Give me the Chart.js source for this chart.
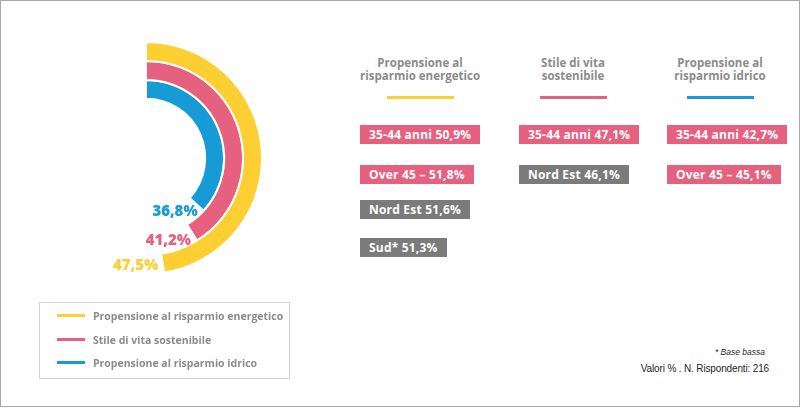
<!DOCTYPE html>
<html>
<head>
<meta charset="utf-8">
<script src="https://cdn.jsdelivr.net/npm/chart.js@4.4.1/dist/chart.umd.min.js"></script>
<style>
  html, body { margin: 0; padding: 0; background: #fff; }
  .frame {
    position: relative; width: 800px; height: 407px; box-sizing: border-box;
    border: 1px solid #a8a8a8; overflow: hidden;
    font-family: "Open Sans", sans-serif;
  }
  #rings { position: absolute; left: 0; top: 12px; }
  .col { position: absolute; top: 0; width: 150px; margin-left: -75px; }
  .col h3 {
    position: absolute; top: 55px; left: 0; width: 150px; margin: 0;
    text-align: center; font-size: 11.5px; line-height: 13px; font-weight: 700; color: #8b8b8b;
  }
  .col .bar { position: absolute; top: 95px; left: 42px; width: 67px; height: 3px; }
  .tag {
    position: absolute; height: 19px; line-height: 19px; padding: 0 9px;
    color: #fff; font-size: 12px; font-weight: 700; letter-spacing: 0.2px; white-space: nowrap;
  }
  .legend {
    position: absolute; left: 38px; top: 301px; width: 251px; height: 77px;
    box-sizing: border-box; border: 1px solid #d4d4d4;
  }
  .legend div {
    position: absolute; left: 53px; font-size: 10.5px; font-weight: 700; color: #8b8b8b;
    line-height: 14px; white-space: nowrap;
  }
  .legend span { position: absolute; left: -36px; top: 5px; width: 28px; height: 3px; }
  .note { position: absolute; right: 30px; font-family: "Liberation Sans", sans-serif; color: #262626; white-space: nowrap; }
</style>
</head>
<body>
<div class="frame" id="frame">
  <canvas id="rings" width="290" height="290"></canvas>
  <div class="legend" id="legend"></div>
  <div class="note" style="top:346px;right:34px;font-size:8.5px;font-style:italic;">* Base bassa</div>
  <div class="note" style="top:362px;font-size:10px;letter-spacing:-0.15px;">Valori % . N. Rispondenti: 216</div>
</div>
<script>
// Data
const seriesNames = ['Propensione al risparmio energetico', 'Stile di vita sostenibile', 'Propensione al risparmio idrico'];
const seriesValues = [47.5, 41.2, 36.8];
const columnTitles = ['Propensione al\nrisparmio energetico', 'Stile di vita\nsostenibile', 'Propensione al\nrisparmio idrico'];
const tagLabels = [
  ['35-44 anni', 'Over 45 –', 'Nord Est', 'Sud*'],
  ['35-44 anni', 'Nord Est'],
  ['35-44 anni', 'Over 45 –']
];
const tagValues = [
  [50.9, 51.8, 51.6, 51.3],
  [47.1, 46.1],
  [42.7, 45.1]
];
const tagKinds = [
  ['age', 'age', 'area', 'area'],
  ['age', 'area'],
  ['age', 'age']
];

// Style
const SERIES_COLORS = ['#fdcf32', '#e6617f', '#179bd6'];
const TAG_COLORS = { age: '#e6617f', area: '#7b7b7b' };
const COLUMN_CENTERS = [419, 572, 719];
const TAG_LEFTS = [359, 518, 666];
const TAG_TOPS = [124, 164, 199, 237];
const LABEL_SHIFT_Y = [-7, 0, 1];

const fmt = (v) => v.toFixed(1).replace('.', ',') + '%';

const frame = document.getElementById('frame');

// Columns with highlights
columnTitles.forEach((title, c) => {
  const col = document.createElement('div');
  col.className = 'col';
  col.style.left = COLUMN_CENTERS[c] + 'px';
  const h = document.createElement('h3');
  h.innerHTML = title.replace('\n', '<br>');
  const bar = document.createElement('div');
  bar.className = 'bar';
  bar.style.background = SERIES_COLORS[c];
  col.appendChild(h);
  col.appendChild(bar);
  frame.appendChild(col);

  tagLabels[c].forEach((label, r) => {
    const tag = document.createElement('div');
    tag.className = 'tag';
    tag.textContent = label + ' ' + fmt(tagValues[c][r]);
    tag.style.left = TAG_LEFTS[c] + 'px';
    tag.style.top = TAG_TOPS[r] + 'px';
    tag.style.background = TAG_COLORS[tagKinds[c][r]];
    frame.appendChild(tag);
  });
});

// Legend
const legend = document.getElementById('legend');
seriesNames.forEach((name, i) => {
  const row = document.createElement('div');
  row.style.top = (6 + i * 23.5) + 'px';
  row.innerHTML = '<span style="background:' + SERIES_COLORS[i] + '"></span>' + name;
  legend.appendChild(row);
});

// Value labels at the end of each ring
const endLabels = {
  id: 'endLabels',
  afterDatasetsDraw(chart) {
    const ctx = chart.ctx;
    ctx.save();
    ctx.font = '800 15px "Open Sans"';
    ctx.textAlign = 'right';
    ctx.textBaseline = 'middle';
    chart.data.datasets.forEach((ds, i) => {
      const arc = chart.getDatasetMeta(i).data[0];
      const { x, y, endAngle, outerRadius } = arc.getProps(['x', 'y', 'endAngle', 'outerRadius'], true);
      const px = x + Math.cos(endAngle) * outerRadius - 6;
      const py = y + Math.sin(endAngle) * outerRadius + LABEL_SHIFT_Y[i];
      ctx.fillStyle = SERIES_COLORS[i];
      ctx.fillText(fmt(seriesValues[i]), px, py);
    });
    ctx.restore();
  }
};

new Chart(document.getElementById('rings'), {
  type: 'doughnut',
  data: {
    labels: ['valore', 'resto'],
    datasets: seriesValues.map((v, i) => ({
      label: seriesNames[i],
      data: [v, 100 - v],
      backgroundColor: [SERIES_COLORS[i], 'rgba(0,0,0,0)'],
      borderColor: '#ffffff',
      borderWidth: [2, 0]
    }))
  },
  options: {
    responsive: false,
    animation: false,
    events: [],
    radius: 116,
    cutout: '51%',
    layout: { padding: 0 },
    plugins: {
      legend: { display: false },
      tooltip: { enabled: false }
    }
  },
  plugins: [endLabels]
});
</script>
</body>
</html>
